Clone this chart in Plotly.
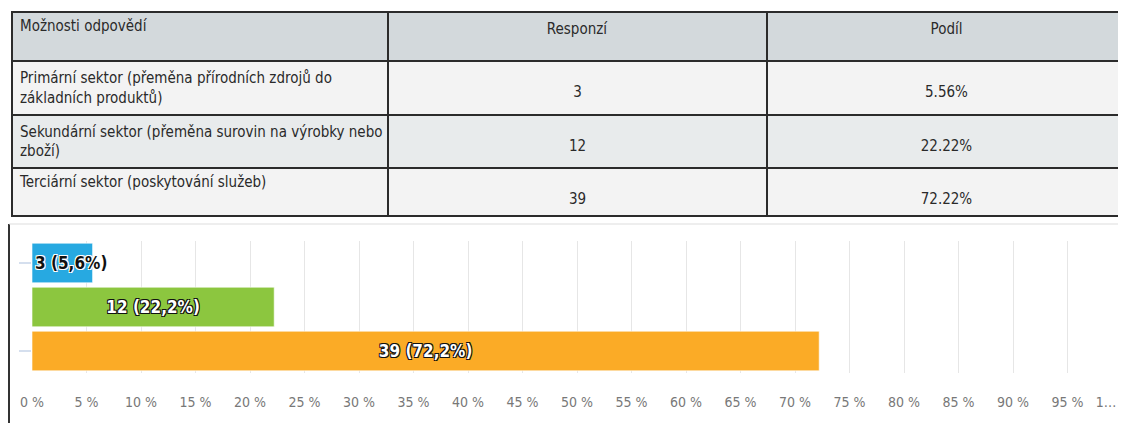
import plotly.graph_objects as go

# survey answers
options = [
    "Primární sektor (přeměna přírodních zdrojů do<br>základních produktů)",
    "Sekundární sektor (přeměna surovin na výrobky nebo<br>zboží)",
    "Terciární sektor (poskytování služeb)",
]
responses = [3, 12, 39]
shares = [5.56, 22.22, 72.22]
bar_labels = ["3 (5,6%)", "12 (22,2%)", "39 (72,2%)"]
bar_colors = ["#27a9e1", "#8cc63f", "#fbab26"]
header = ["Možnosti odpovědí", "Responzí", "Podíl"]
tick_vals = list(range(0, 100, 5))
tick_text = [f"{v} %" for v in tick_vals]
last_tick = 100
last_text = "1…"  # truncated in the original

# page body has an 8px margin, so the figure is a bit smaller than the window
W, H = 1118, 415
OFF = 8
FONT = "DejaVu Sans Condensed, Liberation Sans Narrow, sans-serif"


def px_x(p):
    return (p - OFF) / W


def px_y(p):
    return 1 - (p - OFF) / H


def down(px):
    # table text is top aligned; nudge it towards the middle of the cell
    return f"<span style='baseline-shift:-{px}px'>"


fig = go.Figure()
fig.add_trace(go.Table(
    domain={"x": [px_x(12), 1.0], "y": [px_y(222), px_y(12)]},
    columnwidth=[374, 377, 357],
    header=dict(
        values=header, height=49, align=["left", "center", "center"],
        prefix=["", down(11), down(11)], suffix=["", "</span>", "</span>"],
        fill_color="#d3d9dc", line=dict(color="#2b2b2b", width=2),
        font=dict(family=FONT, size=15, color="#2a2a2a"),
    ),
    cells=dict(
        values=[options, [str(r) for r in responses], [f"{s:.2f}%" for s in shares]],
        height=48, align=["left", "center", "center"],
        prefix=["", down(14), down(14)], suffix=["", "</span>", "</span>"],
        fill_color=[["#f3f3f3", "#e8ebec", "#f3f3f3"] * 3],
        line=dict(color="#2b2b2b", width=2),
        font=dict(family=FONT, size=15, color="#2a2a2a"),
    ),
))

shadow_dark = "-1px -1px 0 #111, 1px -1px 0 #111, -1px 1px 0 #111, 1px 1px 0 #111"
shadow_light = "-1px -1px 0 #fff, 1px -1px 0 #fff, -1px 1px 0 #fff, 1px 1px 0 #fff"
for i in range(len(responses)):
    first = i == 0
    fig.add_trace(go.Bar(
        y=[i], x=[shares[i]], orientation="h", width=0.9,
        marker=dict(color=bar_colors[i], line=dict(width=1, color="rgba(255,255,255,0.6)")),
        text=[bar_labels[i]], textposition="inside",
        insidetextanchor="start" if first else "middle", constraintext="none",
        textfont=dict(family=FONT, size=17, weight="bold",
                      color="#111" if first else "#fff",
                      shadow=shadow_light if first else shadow_dark),
        showlegend=False, hoverinfo="skip", cliponaxis=False,
    ))
# empty trace so the overlay axis carrying the last label gets drawn
fig.add_trace(go.Scatter(x=[], y=[], xaxis="x2", yaxis="y", showlegend=False, hoverinfo="skip"))

xdom = [px_x(32), px_x(1122)]
tickfont = dict(family=FONT, size=14, color="#787878")
fig.update_layout(
    width=W, height=H, margin=dict(l=0, r=0, t=0, b=0),
    paper_bgcolor="white", plot_bgcolor="white", barmode="overlay",
    xaxis=dict(domain=xdom, range=[0, 100], tickvals=tick_vals + [last_tick], ticktext=tick_text + [""],
               showgrid=True, gridcolor="#e6e6e6", gridwidth=1, zeroline=False, showline=False,
               tickfont=tickfont, ticks="", automargin=False, ticklabelstandoff=19),
    # separate overlay axis just for the clipped "1…" label at the right edge
    xaxis2=dict(domain=xdom, range=[0, 100], overlaying="x", anchor="y", side="bottom",
                tickvals=[last_tick], ticktext=[last_text], showgrid=False, zeroline=False,
                showline=False, ticks="", tickfont=tickfont, automargin=False,
                ticklabelstandoff=19, ticklabelshift=-16, ticklabeloverflow="allow"),
    yaxis=dict(domain=[px_y(373), px_y(241)], range=[2.5, -0.5], dtick=2, tick0=0,
               showticklabels=False, showgrid=False, zeroline=False, ticks="outside",
               ticklen=12, tickcolor="#d5dfee", tickwidth=2, automargin=False),
    shapes=[
        dict(type="line", xref="paper", yref="paper", x0=px_x(9), x1=px_x(9), y0=0, y1=px_y(224),
             line=dict(color="#333", width=2)),
        dict(type="line", xref="paper", yref="paper", x0=px_x(9), x1=1, y0=px_y(224), y1=px_y(224),
             line=dict(color="#ddd", width=1)),
    ],
)

fig.write_html("out.html")
